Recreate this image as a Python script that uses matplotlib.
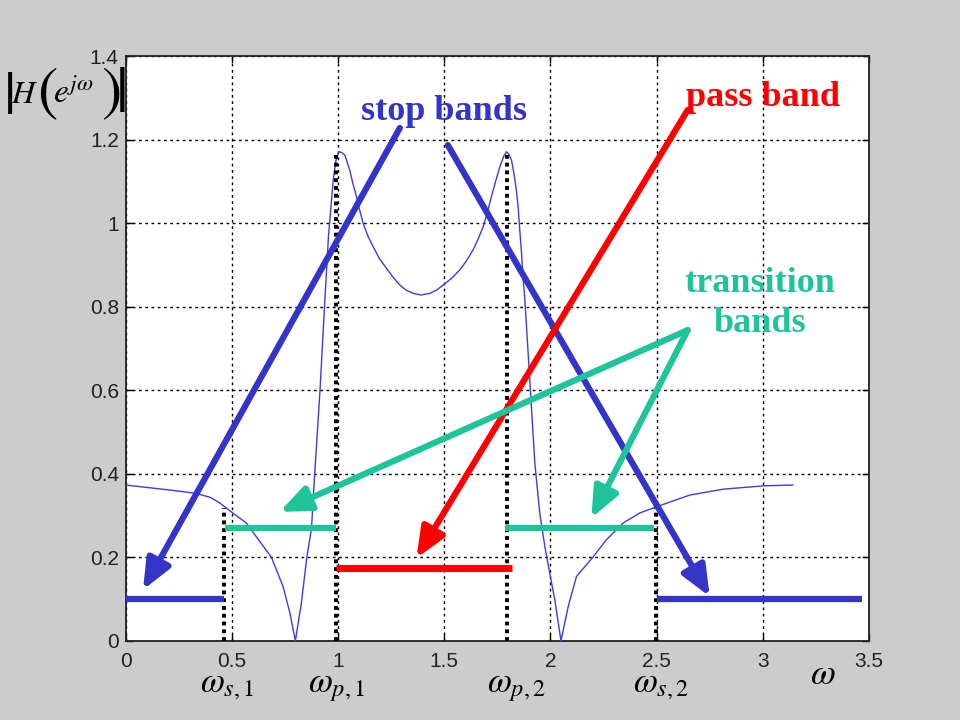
import matplotlib
matplotlib.use('Agg')
import matplotlib.pyplot as plt

# magnitude response (omega in rad, |H|)
omega = [0.0, 0.207, 0.333, 0.400, 0.443, 0.504, 0.568, 0.631, 0.686, 0.741, 0.773,
         0.799, 0.827, 0.853, 0.875, 0.890, 0.915, 0.937, 0.955, 0.977, 0.990,
         1.003, 1.015, 1.032, 1.055, 1.070, 1.087, 1.100, 1.118, 1.140, 1.165,
         1.195, 1.228, 1.260, 1.291, 1.320, 1.354, 1.390, 1.432, 1.465, 1.495,
         1.535, 1.573, 1.605, 1.636, 1.660, 1.683, 1.700, 1.722, 1.742, 1.762,
         1.780, 1.793, 1.805, 1.817, 1.828, 1.840, 1.848, 1.856, 1.864, 1.871,
         1.879, 1.903, 1.927, 1.950, 1.974, 1.997, 2.021, 2.050, 2.084, 2.123,
         2.200, 2.264, 2.343, 2.421, 2.500, 2.657, 2.813, 3.002, 3.142]
mag = [0.373, 0.361, 0.353, 0.343, 0.330, 0.306, 0.282, 0.238, 0.200, 0.130, 0.067,
       0.0, 0.090, 0.200, 0.270, 0.400, 0.600, 0.809, 0.970, 1.103, 1.150,
       1.171, 1.170, 1.163, 1.127, 1.095, 1.063, 1.035, 1.000, 0.970, 0.944,
       0.915, 0.892, 0.870, 0.852, 0.840, 0.832, 0.828, 0.832, 0.840, 0.852,
       0.868, 0.888, 0.910, 0.936, 0.962, 0.991, 1.020, 1.063, 1.100, 1.135,
       1.160, 1.171, 1.165, 1.151, 1.120, 1.079, 1.040, 0.983, 0.930, 0.872,
       0.824, 0.625, 0.425, 0.306, 0.226, 0.162, 0.098, 0.0, 0.082, 0.154,
       0.200, 0.242, 0.282, 0.306, 0.321, 0.349, 0.363, 0.371, 0.373]

# band edges and the height of the dotted markers
edges = [0.462, 0.992, 1.798, 2.496]
edge_tops = [0.318, 1.163, 1.168, 0.321]
edge_names = [r'$\omega_{s,1}$', r'$\omega_{p,1}$', r'$\omega_{p,2}$', r'$\omega_{s,2}$']
name_x = [0.349, 0.857, 1.700, 2.388]

# band bars: (start, end, level)
stop_bars = [(0.0, 0.462, 0.10), (2.50, 3.47, 0.10)]
trans_bars = [(0.466, 0.989, 0.27), (1.785, 2.49, 0.27)]
pass_bar = (0.992, 1.817, 0.175)

# arrows: (tail, tip)
stop_arrows = [((1.291, 1.228), (0.081, 0.122)), ((1.517, 1.187), (2.751, 0.106))]
pass_arrow = ((2.647, 1.271), (1.369, 0.198))
trans_arrows = [((2.647, 0.744), (0.725, 0.309)), ((2.647, 0.744), (2.193, 0.294))]

blue = '#3434c8'
red = '#ff0000'
teal = '#1fc49a'
curve_col = '#3b3bee'

plt.rcParams['mathtext.fontset'] = 'stix'
plt.rcParams['font.family'] = 'Liberation Sans'

fig = plt.figure(figsize=(9.6, 7.2), dpi=100, facecolor='#cccccc')
ax = fig.add_axes([0.131, 0.110, 0.774, 0.812])
ax.set_xlim(0, 3.5)
ax.set_ylim(0, 1.4)
ax.set_xticks([0, 0.5, 1, 1.5, 2, 2.5, 3, 3.5])
ax.set_yticks([0, 0.2, 0.4, 0.6, 0.8, 1, 1.2, 1.4])
ax.set_xticklabels(['0', '0.5', '1', '1.5', '2', '2.5', '3', '3.5'])
ax.set_yticklabels(['0', '0.2', '0.4', '0.6', '0.8', '1', '1.2', '1.4'])
ax.tick_params(direction='in', length=5, width=1, labelsize=15,
               labelcolor='#222222', top=True, right=True)
ax.tick_params(axis='x', pad=8)
ax.tick_params(axis='y', pad=5)
ax.grid(True, color='black', linestyle=(0, (2, 2.5)), linewidth=1.0)
for s in ax.spines.values():
    s.set_linewidth(1.3)
    s.set_color('#222222')

ax.plot(omega, mag, color=curve_col, lw=1.0, zorder=3)

for x, top in zip(edges, edge_tops):
    ax.plot([x, x], [0, top], color='black', lw=2.8, linestyle=(0, (1, 1)), zorder=4)

for x0, x1, y in stop_bars:
    ax.plot([x0, x1], [y, y], color=blue, lw=4.5, solid_capstyle='butt', zorder=5)
for x0, x1, y in trans_bars:
    ax.plot([x0, x1], [y, y], color=teal, lw=4.5, solid_capstyle='butt', zorder=5)
ax.plot([pass_bar[0], pass_bar[1]], [pass_bar[2]] * 2, color=red, lw=5,
        solid_capstyle='butt', zorder=5)


def arrow(tail, tip, col):
    ax.annotate('', xy=tip, xytext=tail,
                arrowprops=dict(arrowstyle='-|>,head_length=1.3,head_width=0.55',
                                mutation_scale=14, lw=4.5, color=col,
                                shrinkA=0, shrinkB=0),
                zorder=6)


for tail, tip in stop_arrows:
    arrow(tail, tip, blue)
arrow(pass_arrow[0], pass_arrow[1], red)
for tail, tip in trans_arrows:
    arrow(tail, tip, teal)

serif_bold = dict(family='Liberation Serif', weight='bold', fontsize=26)
ax.text(1.498, 1.268, 'stop bands', color=blue, ha='center', va='center', zorder=7, **serif_bold)
ax.text(3.0, 1.300, 'pass band', color=red, ha='center', va='center', zorder=7, **serif_bold)
ax.text(2.986, 0.808, 'transition\nbands', color=teal, ha='center', va='center',
        linespacing=1.25, zorder=7, **serif_bold)

xtr = ax.get_xaxis_transform()
for nm, x in zip(edge_names, name_x):
    ax.text(x, -0.088, nm, transform=xtr, ha='left', va='baseline', fontsize=25,
            clip_on=False)
ax.text(3.222, -0.074, r'$\omega$', transform=xtr, ha='left', va='baseline',
        fontsize=26, clip_on=False)


# y label |H(e^{jw})| built from pieces so the delimiters are tall
def px(x, y):
    return x / 960, 1 - y / 720


fig.text(*px(3, 98), r'$|$', fontsize=44, ha='left', va='center')
fig.text(*px(11, 103), r'$H$', fontsize=23, ha='left', va='baseline')
fig.text(*px(37, 94), r'$($', fontsize=44, ha='left', va='center')
fig.text(*px(53, 103), r'$e^{j\omega}$', fontsize=24, ha='left', va='baseline')
fig.text(*px(101, 94), r'$)$', fontsize=44, ha='left', va='center')
fig.text(*px(115, 95), r'$|$', fontsize=46, ha='left', va='center')

fig.savefig('out.png', dpi=100, facecolor=fig.get_facecolor())
